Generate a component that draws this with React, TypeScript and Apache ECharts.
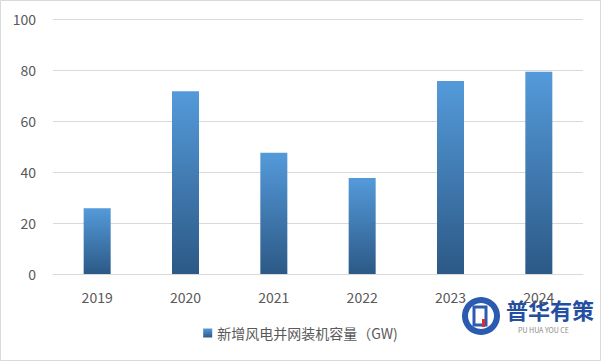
import React, { useEffect, useRef } from "react";
import * as echarts from "echarts";

const categories = ["2019", "2020", "2021", "2022", "2023", "2024"];
const values = [25.74, 71.67, 47.57, 37.63, 75.66, 79.34];
const seriesName = "新增风电并网装机容量（GW)";

export default function App() {
  const ref = useRef<HTMLDivElement>(null);
  useEffect(() => {
    const chart = echarts.init(ref.current!, null, { renderer: "svg" });
    const font = "'Noto Sans CJK SC', 'Microsoft YaHei', sans-serif";
    chart.setOption({
      animation: false,
      backgroundColor: "#ffffff",
      textStyle: { fontFamily: font },
      grid: { left: 53, right: 18, top: 19, bottom: 87 },
      legend: {
        data: [seriesName],
        bottom: 16,
        left: "center",
        itemWidth: 9,
        itemHeight: 9,
        icon: "rect",
        itemGap: 5,
        textStyle: { color: "#595959", fontSize: 14, fontFamily: font },
      },
      xAxis: {
        type: "category",
        data: categories,
        axisLine: { show: true, lineStyle: { color: "#d9d9d9" } },
        axisTick: { show: false },
        axisLabel: { color: "#595959", fontSize: 14, margin: 16, fontFamily: font },
      },
      yAxis: {
        type: "value",
        min: 0,
        max: 100,
        interval: 20,
        axisLine: { show: false },
        axisTick: { show: false },
        splitLine: { lineStyle: { color: "#d9d9d9" } },
        axisLabel: { color: "#595959", fontSize: 14, margin: 17, fontFamily: font },
      },
      series: [
        {
          name: seriesName,
          type: "bar",
          data: values,
          barWidth: 27,
          itemStyle: {
            color: new echarts.graphic.LinearGradient(0, 0, 0, 1, [
              { offset: 0, color: "#549ada" },
              { offset: 1, color: "#2c5986" },
            ]),
          },
        },
      ],
      graphic: [
        {
          type: "rect",
          shape: { x: 0.5, y: 0.5, width: 600, height: 360 },
          style: { fill: "none", stroke: "#d9d9d9", lineWidth: 1 },
          silent: true,
        },
        {
          type: "group",
          left: 462,
          top: 297,
          children: [
            { type: "circle", shape: { cx: 19, cy: 19, r: 19 }, style: { fill: "#2a5bb0" } },
            { type: "circle", shape: { cx: 19, cy: 19, r: 13 }, style: { fill: "#ffffff" } },
            { type: "rect", shape: { x: 12, y: 10, width: 12, height: 18 }, style: { fill: "none", stroke: "#2a5bb0", lineWidth: 3 } },
            { type: "rect", shape: { x: 20, y: 22, width: 3, height: 8 }, style: { fill: "#d9302c" } },
          ],
        },
        {
          type: "text",
          left: 506,
          top: 298,
          style: { text: "普华有策", fill: "#244fa0", fontSize: 22, fontWeight: "bold", fontFamily: font },
        },
        {
          type: "text",
          left: 518,
          top: 326,
          style: { text: "PU HUA YOU CE", fill: "#8a8a8a", fontSize: 7, fontFamily: font },
        },
      ],
    });
    return () => chart.dispose();
  }, []);
  return <div ref={ref} style={{ width: 601, height: 361, position: "absolute", left: 0, top: 0 }} />;
}
